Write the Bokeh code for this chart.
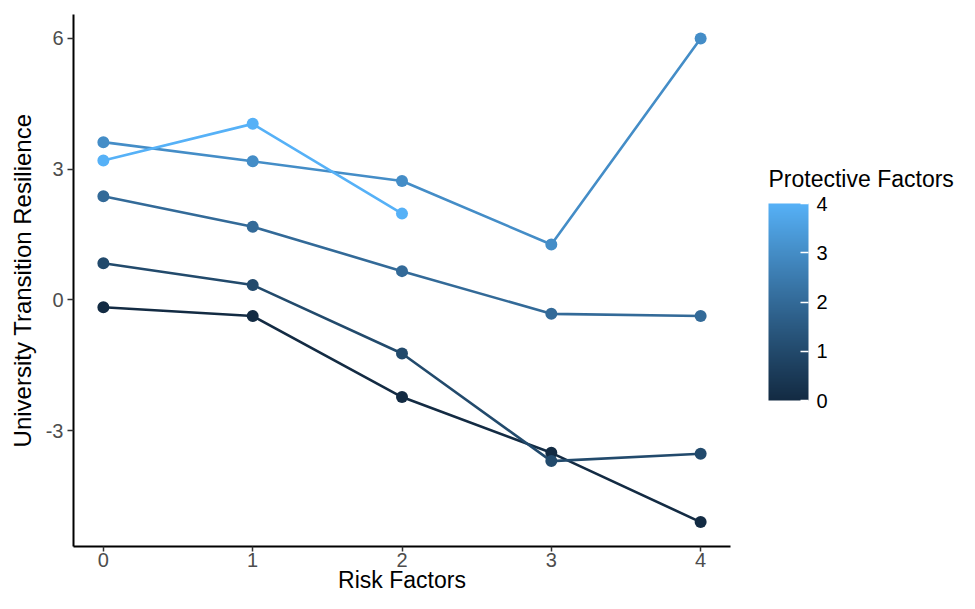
import math
from bokeh.plotting import figure
from bokeh.models import Range1d, FixedTicker, LinearColorMapper, ColorBar, ColumnDataSource, Label
from bokeh.transform import transform
from bokeh.embed import file_html
from bokeh.resources import INLINE

# ---------------- data ----------------
risk_factors = [0, 1, 2, 3, 4]
protective_levels = [0, 1, 2, 3, 4]
resilience_pf0 = [-0.17, -0.37, -2.23, -3.51, -5.10]
resilience_pf1 = [0.84, 0.34, -1.23, -3.70, -3.53]
resilience_pf2 = [2.38, 1.68, 0.66, -0.32, -0.37]
resilience_pf3 = [3.62, 3.18, 2.73, 1.27, 6.00]
resilience_pf4 = [3.20, 4.04, 1.98]
x_ticks = [0, 1, 2, 3, 4]
y_ticks = [-3, 0, 3, 6]
y_tick_labels = ["-3", "0", "3", "6"]
legend_ticks = [0, 1, 2, 3, 4]
x_title = "Risk Factors"
y_title = "University Transition Resilience"
legend_title = "Protective Factors"

series = [resilience_pf0, resilience_pf1, resilience_pf2, resilience_pf3, resilience_pf4]

# ---------------- colour gradient (Lab interpolation, like ggplot) ----------------
LOW, HIGH = "#132B43", "#56B1F7"
WX, WY, WZ = 0.95047, 1.0, 1.08883


def _lin(c):
    c = c / 255.0
    return c / 12.92 if c <= 0.04045 else ((c + 0.055) / 1.055) ** 2.4


def _gam(c):
    c = max(0.0, min(1.0, c))
    return 12.92 * c if c <= 0.0031308 else 1.055 * c ** (1 / 2.4) - 0.055


def hex_to_lab(h):
    r, g, b = (_lin(int(h[i:i + 2], 16)) for i in (1, 3, 5))
    X = 0.4124 * r + 0.3576 * g + 0.1805 * b
    Y = 0.2126 * r + 0.7152 * g + 0.0722 * b
    Z = 0.0193 * r + 0.1192 * g + 0.9505 * b

    def f(t):
        return t ** (1 / 3) if t > 0.008856 else 7.787 * t + 16 / 116
    fx, fy, fz = f(X / WX), f(Y / WY), f(Z / WZ)
    return 116 * fy - 16, 500 * (fx - fy), 200 * (fy - fz)


def lab_to_hex(L, a, b):
    fy = (L + 16) / 116
    fx = fy + a / 500
    fz = fy - b / 200

    def fi(t):
        return t ** 3 if t ** 3 > 0.008856 else (t - 16 / 116) / 7.787
    X, Y, Z = fi(fx) * WX, fi(fy) * WY, fi(fz) * WZ
    r = 3.2406 * X - 1.5372 * Y - 0.4986 * Z
    g = -0.9689 * X + 1.8758 * Y + 0.0415 * Z
    bb = 0.0557 * X - 0.2040 * Y + 1.0570 * Z
    return "#%02x%02x%02x" % tuple(int(round(_gam(c) * 255)) for c in (r, g, bb))


lab_lo, lab_hi = hex_to_lab(LOW), hex_to_lab(HIGH)
N = 256
palette = [lab_to_hex(*[lo + (hi - lo) * i / (N - 1) for lo, hi in zip(lab_lo, lab_hi)]) for i in range(N)]
mapper = LinearColorMapper(palette=palette, low=min(protective_levels), high=max(protective_levels))

# ---------------- sources ----------------
line_src = ColumnDataSource(dict(
    xs=[risk_factors[:len(s)] for s in series],
    ys=series,
    pf=protective_levels,
))
pt_x, pt_y, pt_pf = [], [], []
for pf, s in zip(protective_levels, series):
    pt_x += risk_factors[:len(s)]
    pt_y += s
    pt_pf += [pf] * len(s)
pt_src = ColumnDataSource(dict(x=pt_x, y=pt_y, pf=pt_pf))

# ---------------- layout geometry (pixels) ----------------
FONT = "Liberation Sans"
W, H = 959, 593
X_LO, X_HI = -0.2, 4.2          # visible panel range (ggplot expansion)
Y_LO, Y_HI = -5.66, 6.55
PX_L, PX_R, PX_T, PX_B = 73, 730, 14, 546   # panel edges on the canvas
ppx = (PX_R - PX_L) / (X_HI - X_LO)
ppy = (PX_B - PX_T) / (Y_HI - Y_LO)
x_range = Range1d(X_LO - PX_L / ppx, X_HI + (W - PX_R) / ppx)
y_range = Range1d(Y_LO - (H - PX_B) / ppy, Y_HI + PX_T / ppy)

p = figure(width=W, height=H, output_backend="svg", toolbar_location=None,
           x_range=x_range, y_range=y_range,
           min_border_left=0, min_border_right=0, min_border_top=0, min_border_bottom=0)
p.grid.visible = False
p.outline_line_color = None
p.background_fill_color = "white"
p.border_fill_color = "white"

p.multi_line("xs", "ys", source=line_src, line_color=transform("pf", mapper), line_width=2.6)
p.scatter("x", "y", source=pt_src, size=12, fill_color=transform("pf", mapper),
          line_color=transform("pf", mapper), line_width=0)

for ax in (p.xaxis[0], p.yaxis[0]):
    ax.axis_line_color = "black"
    ax.axis_line_width = 2
    ax.major_tick_line_color = "#333333"
    ax.major_tick_line_width = 1.5
    ax.major_tick_in = 0
    ax.minor_tick_line_color = None
    ax.major_label_text_font = FONT
    ax.major_label_text_font_size = "20px"
    ax.major_label_text_color = "#4D4D4D"

p.xaxis.fixed_location = Y_LO
p.xaxis.bounds = (X_LO, X_HI)
p.yaxis.fixed_location = X_LO
p.yaxis.bounds = (Y_LO, Y_HI)
p.xaxis.ticker = FixedTicker(ticks=x_ticks)
p.yaxis.ticker = FixedTicker(ticks=y_ticks)
p.yaxis.major_label_overrides = {t: s for t, s in zip(y_ticks, y_tick_labels)}
p.xaxis.major_tick_out = 5
p.xaxis.major_label_standoff = 1
p.yaxis.major_tick_out = 6
p.yaxis.major_label_standoff = 4

# axis titles
p.add_layout(Label(x=(X_LO + X_HI) / 2, y=H - 579, x_units="data", y_units="screen",
                   text=x_title, text_font=FONT, text_font_size="23px", text_color="black",
                   text_align="center", text_baseline="middle"))
p.add_layout(Label(x=22, y=(Y_LO + Y_HI) / 2, x_units="screen", y_units="data",
                   text=y_title, text_font=FONT, text_font_size="24px", text_color="black",
                   text_align="center", text_baseline="middle", angle=math.pi / 2))

# colour bar + its title
cb = ColorBar(color_mapper=mapper, ticker=FixedTicker(ticks=legend_ticks),
              width=40, height=197, location=(768, H - 400), padding=0,
              major_label_text_font=FONT, major_label_text_font_size="20px",
              major_label_text_color="black",
              major_tick_line_color="white", major_tick_line_width=1.5,
              major_tick_in=8, major_tick_out=0, label_standoff=8,
              bar_line_color=None, border_line_color=None, background_fill_alpha=0)
p.add_layout(cb)
p.add_layout(Label(x=768, y=H - 178, x_units="screen", y_units="screen",
                   text=legend_title, text_font=FONT, text_font_size="23px", text_color="black",
                   text_align="left", text_baseline="middle"))

open("out.html", "w").write(file_html(p, INLINE))
